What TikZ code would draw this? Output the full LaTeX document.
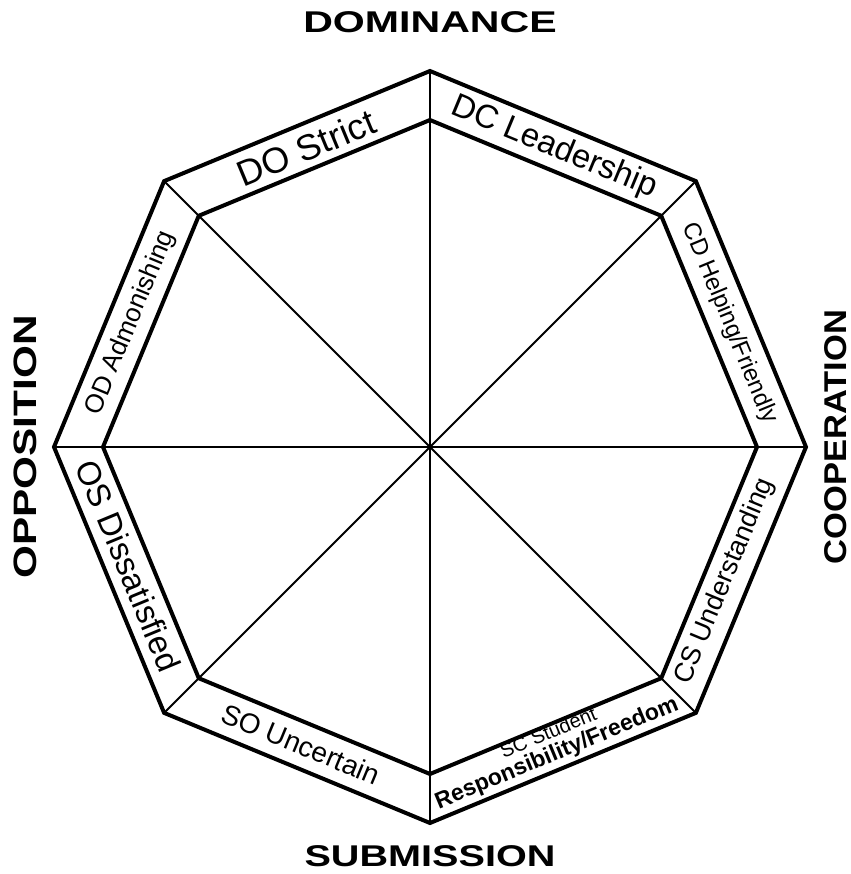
\documentclass[tikz,border=0pt]{standalone}
\usepackage{fontspec}
\setmainfont{Liberation Sans}
\usetikzlibrary{calc}

\begin{document}
\begin{tikzpicture}[
  x=0.5pt,y=0.5pt,
  rim/.style={line width=2pt,line join=miter},
  spoke/.style={line width=1.3pt},
  divider/.style={line width=0.9pt},
  seg/.style={inner sep=0pt,font=\fontsize{#1}{#1}\selectfont},
  axis/.style={inner sep=0pt,font=\fontsize{15}{18}\selectfont\bfseries},
]
\useasboundingbox (-430,-427) rectangle (421,447);
\coordinate (c) at (0,0);
\foreach \k in {0,...,7} {
  \coordinate (o\k) at (90-45*\k:376);
  \coordinate (i\k) at (90-45*\k:327);
}
\foreach \k in {1,3,5,7} \draw[divider] (c) -- (o\k);
\foreach \k in {0,2,4,6} \draw[spoke] (c) -- (o\k);
\draw[rim] (o0) -- (o1) -- (o2) -- (o3) -- (o4) -- (o5) -- (o6) -- (o7) -- cycle;
\draw[rim] (i0) -- (i1) -- (i2) -- (i3) -- (i4) -- (i5) -- (i6) -- (i7) -- cycle;

\node[seg=18,rotate=22.5] (do) at (112.5:324) {DO Strict};
\node[seg=16.5,rotate=-22.5] (dc) at (67.5:324) {DC Leadership};
\node[seg=12,rotate=-67.5] (cd) at (22.5:324) {CD Helping/Friendly};
\node[seg=13.5,rotate=67.5] (cs) at (-24.5:324) {CS Understanding};
\node[seg=11,rotate=22.5,align=center] (sc) at (-67.5:322)
  {{\fontsize{10}{11}\selectfont SC Student}\\{\fontsize{11.5}{12}\selectfont\bfseries Responsibility/Freedom}};
\node[seg=14,rotate=-22.5] (so) at (-113.5:324) {SO Uncertain};
\node[seg=16.5,rotate=-67.5] (os) at (-158.5:324) {OS Dissatisfied};
\node[seg=13,rotate=67.5] (od) at (157.5:324) {OD Admonishing};

\node[axis] (dom) at (0,425) {\scalebox{1.37}[1]{DOMINANCE}};
\node[axis] (sub) at (0,-409) {\scalebox{1.32}[1]{SUBMISSION}};
\node[axis,rotate=90] (opp) at (-405,0) {\scalebox{1.41}[1.08]{OPPOSITION}};
\node[axis,rotate=90] (coop) at (406,10) {\scalebox{1.15}[1.05]{COOPERATION}};
\end{tikzpicture}
\end{document}
